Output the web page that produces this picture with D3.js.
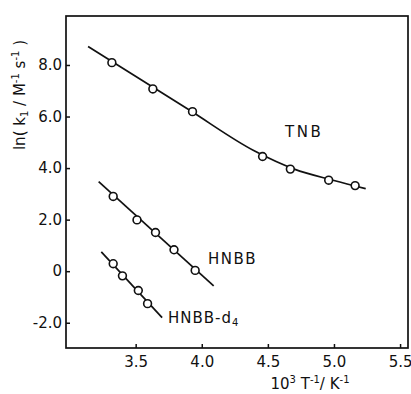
<!DOCTYPE html>
<html><head><meta charset="utf-8">
<script src="https://cdn.jsdelivr.net/npm/d3@7"></script>
<style>body{margin:0;background:#fff}svg{display:block}text{font-family:"DejaVu Sans",sans-serif;fill:#111}</style>
</head><body>
<svg id="c" width="411" height="394"></svg>
<script>
const xTicks = [3.5, 4.0, 4.5, 5.0, 5.5];
const xTickLabels = ["3.5", "4.0", "4.5", "5.0", "5.5"];
const yTicks = [-2, 0, 2, 4, 6, 8];
const yTickLabels = ["-2.0", "0", "2.0", "4.0", "6.0", "8.0"];

const tnbX = [3.32, 3.63, 3.93, 4.46, 4.67, 4.96, 5.16];
const tnbY = [8.09, 7.07, 6.19, 4.45, 3.96, 3.53, 3.32];
const hnbbX = [3.33, 3.51, 3.65, 3.79, 3.95];
const hnbbY = [2.90, 1.99, 1.50, 0.83, 0.03];
const d4X = [3.33, 3.40, 3.52, 3.59];
const d4Y = [0.29, -0.18, -0.75, -1.26];

const tnbFitX = [3.14, 3.90, 4.40, 4.70, 5.00, 5.24];
const tnbFitY = [8.72, 6.27, 4.66, 3.96, 3.52, 3.20];
const hnbbFitX = [3.22, 4.09];
const hnbbFitY = [3.47, -0.57];
const d4FitX = [3.24, 3.70];
const d4FitY = [0.75, -1.80];

const svg = d3.select("#c");
const L = 66, R = 408, T = 16, B = 348;
const x = d3.scaleLinear().domain([2.973, 5.56]).range([L, R]);
const y = d3.scaleLinear().domain([-2.98, 9.9]).range([B, T]);

svg.append("rect").attr("x", L).attr("y", T).attr("width", R - L).attr("height", B - T)
  .attr("fill", "none").attr("stroke", "#111").attr("stroke-width", 1.7);

const xa = svg.append("g").attr("transform", `translate(0,${B})`)
  .call(d3.axisBottom(x).tickValues(xTicks).tickSize(-4).tickPadding(8)
    .tickFormat((d, i) => xTickLabels[i]));
const ya = svg.append("g").attr("transform", `translate(${L},0)`)
  .call(d3.axisLeft(y).tickValues(yTicks).tickSize(-4).tickPadding(4)
    .tickFormat((d, i) => yTickLabels[i]));
[xa, ya].forEach(g => {
  g.select(".domain").remove();
  g.selectAll(".tick line").attr("stroke", "#111").attr("stroke-width", 1.5);
  g.selectAll(".tick text").attr("font-size", 15).style("font-family", '"DejaVu Sans",sans-serif').attr("fill", "#111");
});

const line = d3.line().x(d => x(d[0])).y(d => y(d[1]));
function fit(xs, ys, curve) {
  svg.append("path").datum(xs.map((v, i) => [v, ys[i]]))
    .attr("d", line.curve(curve)).attr("fill", "none").attr("stroke", "#111").attr("stroke-width", 1.7);
}
fit(tnbFitX, tnbFitY, d3.curveMonotoneX);
fit(hnbbFitX, hnbbFitY, d3.curveLinear);
fit(d4FitX, d4FitY, d3.curveLinear);

function pts(xs, ys) {
  svg.append("g").selectAll("circle").data(xs.map((v, i) => [v, ys[i]])).join("circle")
    .attr("cx", d => x(d[0])).attr("cy", d => y(d[1])).attr("r", 3.9)
    .attr("fill", "#fff").attr("stroke", "#111").attr("stroke-width", 1.6);
}
pts(tnbX, tnbY); pts(hnbbX, hnbbY); pts(d4X, d4Y);

svg.append("text").attr("x", 285).attr("y", 137).attr("font-size", 15).attr("letter-spacing", 2.5).text("TNB");
svg.append("text").attr("x", 208).attr("y", 264).attr("font-size", 15).attr("letter-spacing", 1.5).text("HNBB");
const d4t = svg.append("text").attr("x", 168).attr("y", 323).attr("font-size", 15).attr("letter-spacing", 1);
d4t.append("tspan").text("HNBB-d");
d4t.append("tspan").attr("font-size", 10).attr("dy", 3).text("4");

const xl = svg.append("text").attr("x", 310).attr("y", 389).attr("text-anchor", "middle").attr("font-size", 15);
xl.append("tspan").text("10");
xl.append("tspan").attr("font-size", 10).attr("dy", -6).text("3");
xl.append("tspan").attr("dy", 6).text(" T");
xl.append("tspan").attr("font-size", 10).attr("dy", -6).text("-1");
xl.append("tspan").attr("dy", 6).text("/ K");
xl.append("tspan").attr("font-size", 10).attr("dy", -6).text("-1");

const yl = svg.append("text").attr("transform", "translate(25,95) rotate(-90)").attr("text-anchor", "middle").attr("font-size", 15);
yl.append("tspan").text("ln( k");
yl.append("tspan").attr("font-size", 10).attr("dy", 3).text("1");
yl.append("tspan").attr("dy", -3).text(" / M");
yl.append("tspan").attr("font-size", 10).attr("dy", -6).text("-1");
yl.append("tspan").attr("dy", 6).text(" s");
yl.append("tspan").attr("font-size", 10).attr("dy", -6).text("-1");
yl.append("tspan").attr("dy", 6).text(" )");
</script>
</body></html>
